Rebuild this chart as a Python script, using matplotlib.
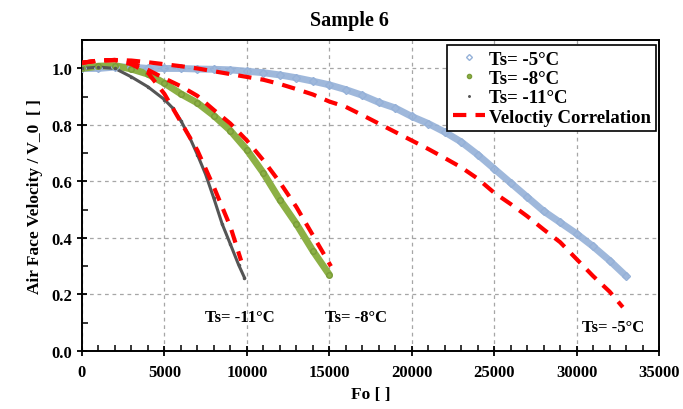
import matplotlib.pyplot as plt
from matplotlib.ticker import MultipleLocator

fo_5 = [0, 1000, 2000, 3000, 4000, 5000, 6000, 7000, 8000, 9000, 10000, 11000, 12000,
        13000, 14000, 15000, 16000, 17000, 18000, 19000, 20000, 21000, 22000, 23000,
        24000, 25000, 26000, 27000, 28000, 29000, 30000, 31000, 32000, 33000]
v_5 = [1.0, 1.0, 1.005, 1.005, 1.0, 1.0, 1.0, 0.998, 0.997, 0.995, 0.99, 0.985, 0.977,
       0.967, 0.955, 0.942, 0.925, 0.905, 0.88, 0.86, 0.83, 0.805, 0.775, 0.74,
       0.695, 0.645, 0.595, 0.545, 0.495, 0.455, 0.415, 0.37, 0.32, 0.265]

fo_8 = [0, 1000, 2000, 3000, 4000, 5000, 6000, 7000, 8000, 9000, 10000, 11000, 12000,
        13000, 14000, 15000]
v_8 = [1.0, 1.008, 1.01, 0.998, 0.98, 0.948, 0.91, 0.878, 0.833, 0.78, 0.712, 0.63,
       0.535, 0.45, 0.355, 0.27]

fo_11 = [0, 1000, 2000, 3000, 4000, 5000, 5500, 6000, 6500, 7000, 7500, 8000, 8500,
         9000, 9500, 9850]
v_11 = [1.0, 1.005, 1.0, 0.97, 0.935, 0.89, 0.86, 0.815, 0.76, 0.695, 0.625, 0.54,
        0.45, 0.378, 0.305, 0.26]

# velocity correlation curves
fo_c5 = [0, 1000, 2000, 3000, 4000, 5000, 6000, 7000, 8000, 9000, 10000, 11000, 12000,
         13000, 14000, 15000, 16000, 17000, 18000, 19000, 20000, 21000, 22000, 23000,
         24000, 25000, 26000, 27000, 28000, 29000, 30000, 31000, 32000, 32800]
v_c5 = [1.02, 1.028, 1.03, 1.028, 1.022, 1.015, 1.008, 1.0, 0.99, 0.98, 0.97, 0.96,
        0.945, 0.927, 0.908, 0.883, 0.864, 0.835, 0.805, 0.775, 0.745, 0.715, 0.683,
        0.65, 0.61, 0.56, 0.52, 0.477, 0.43, 0.385, 0.325, 0.265, 0.21, 0.155]

fo_c8 = [0, 1000, 2000, 3000, 4000, 5000, 6000, 7000, 8000, 9000, 10000, 11000, 12000,
         13000, 14000, 15100]
v_c8 = [1.02, 1.028, 1.03, 1.022, 0.995, 0.965, 0.937, 0.903, 0.853, 0.805, 0.745,
        0.675, 0.597, 0.51, 0.41, 0.30]

fo_c11 = [0, 1000, 2000, 3000, 4000, 5000, 6000, 7000, 8000, 9000, 9650]
v_c11 = [1.02, 1.028, 1.03, 1.015, 0.985, 0.91, 0.81, 0.71, 0.58, 0.44, 0.32]

plt.rcParams['font.family'] = ['Liberation Serif', 'DejaVu Serif']
plt.rcParams['font.weight'] = 'bold'

fig = plt.figure(figsize=(6.83, 4.10), dpi=100)
ax = fig.add_axes([0.120, 0.1415, 0.845, 0.758])

blue = '#95B1D8'
green = '#8CB045'
gray = '#555555'

# thick band under the markers to mimic the dense measurement points
ax.plot(fo_5, v_5, color=blue, lw=5, alpha=0.9, solid_capstyle='round', zorder=2)
ax.plot(fo_5, v_5, ls='none', marker='D', ms=4, mfc='none', mec=blue, mew=1,
        label='Ts= -5°C', zorder=3)
ax.plot(fo_8, v_8, color=green, lw=5, solid_capstyle='round', zorder=2)
ax.plot(fo_8, v_8, ls='none', marker='o', ms=4, mfc=green, mec='#7A9C38',
        label='Ts= -8°C', zorder=3)
ax.plot(fo_11, v_11, color=gray, lw=2.2, zorder=2)
ax.plot(fo_11, v_11, ls='none', marker='.', ms=3, color=gray,
        label='Ts= -11°C', zorder=3)

dash = (0, (3.2, 2.2))
ax.plot(fo_c5, v_c5, color='#FF0000', lw=3, ls=dash, label='Veloctiy Correlation', zorder=4)
ax.plot(fo_c8, v_c8, color='#FF0000', lw=3, ls=dash, zorder=4)
ax.plot(fo_c11, v_c11, color='#FF0000', lw=3, ls=dash, zorder=4)

ax.set_xlim(0, 35000)
ax.set_ylim(0, 1.1)
ax.xaxis.set_major_locator(MultipleLocator(5000))
ax.xaxis.set_minor_locator(MultipleLocator(1000))
ax.yaxis.set_major_locator(MultipleLocator(0.2))
ax.yaxis.set_minor_locator(MultipleLocator(0.1))
ax.set_yticks([0, 0.2, 0.4, 0.6, 0.8, 1.0])
ax.set_yticklabels(['0.0', '0.2', '0.4', '0.6', '0.8', '1.0'])
ax.tick_params(which='major', direction='inout', length=7, width=1.3, labelsize=12)
ax.tick_params(which='minor', direction='in', length=4, width=1.1)
ax.tick_params(axis='x', pad=6)
for s in ax.spines.values():
    s.set_linewidth(1.4)
    s.set_color('black')

ax.grid(True, which='major', color='#A6A6A6', ls=(0, (3, 3)), lw=0.9)
ax.set_axisbelow(True)

ax.set_xlabel('Fo [ ]', fontsize=12.5, fontweight='bold', labelpad=4)
ax.set_ylabel('Air Face Velocity / V_0  [ ]', fontsize=12.5, fontweight='bold', labelpad=6)
fig.text(0.511, 0.949, 'Sample 6', ha='center', va='center', fontsize=14.5, fontweight='bold')

ax.text(9550, 0.12, 'Ts= -11°C', ha='center', va='center', fontsize=12, fontweight='bold')
ax.text(16600, 0.12, 'Ts= -8°C', ha='center', va='center', fontsize=12, fontweight='bold')
ax.text(32200, 0.085, 'Ts= -5°C', ha='center', va='center', fontsize=12, fontweight='bold')

leg = ax.legend(loc='upper right', bbox_to_anchor=(0.995, 0.985), fontsize=13.5,
                frameon=True, fancybox=False, edgecolor='black', framealpha=1,
                borderpad=0.3, labelspacing=0.12, handlelength=1.7, handletextpad=0.2,
                numpoints=1, borderaxespad=0.0, markerscale=0.75)
leg.get_frame().set_linewidth(1.2)
for t in leg.get_texts():
    t.set_fontweight('bold')

fig.savefig('out.png', dpi=100)
